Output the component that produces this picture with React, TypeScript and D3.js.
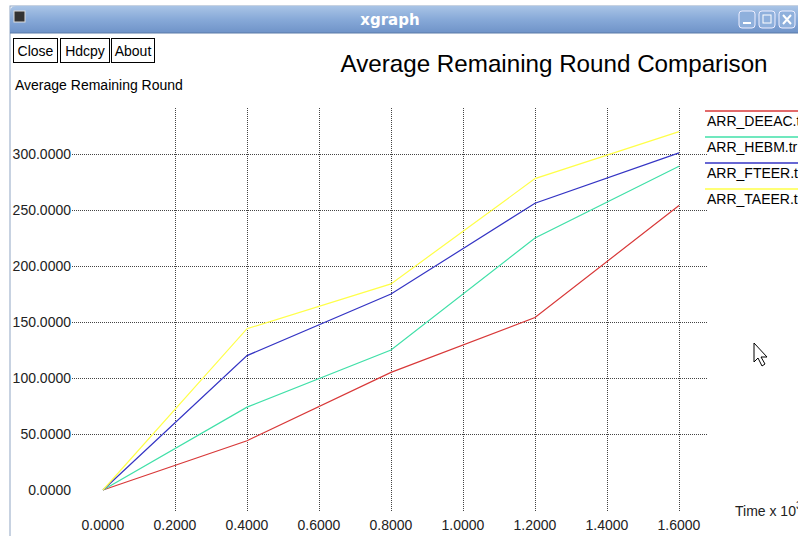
import React from 'react';
import * as d3 from 'd3';

// values
const times = [0, 0.4, 0.8, 1.2, 1.6];
const deeac = [0, 44, 105, 154, 254];
const hebm = [0, 74, 125, 225, 289];
const fteer = [0, 120, 175, 256, 301];
const taeer = [0, 144, 184, 278, 320];

const seriesNames = ['ARR_DEEAC.tr', 'ARR_HEBM.tr', 'ARR_FTEER.tr', 'ARR_TAEER.tr'];
const seriesColors = ['#d83838', '#40e0a8', '#3434c4', '#ffff48'];
const seriesValues = [deeac, hebm, fteer, taeer];

const xTicks = [0, 0.2, 0.4, 0.6, 0.8, 1.0, 1.2, 1.4, 1.6];
const yTicks = [0, 50, 100, 150, 200, 250, 300];

const W = 798;
const H = 536;
const font = 'Liberation Sans, Arial, sans-serif';

const App = () => {
  const x = d3.scaleLinear().domain([0, 1.6]).range([103, 679]);
  const y = d3.scaleLinear().domain([0, 300]).range([490, 154]);

  const line = d3
    .line<number>()
    .x((d, i) => x(times[i]))
    .y(d => y(d));

  const grid = '#444';

  return (
    <svg
      width={W}
      height={H}
      style={{ position: 'absolute', left: 0, top: 0, display: 'block', background: '#fff' }}
    >
      <defs>
        <linearGradient id="tb" x1="0" y1="0" x2="0" y2="1">
          <stop offset="0" stopColor="#a9c4e6" />
          <stop offset="0.5" stopColor="#87a9d8" />
          <stop offset="1" stopColor="#6f93c8" />
        </linearGradient>
      </defs>

      {/* window frame */}
      <rect x={10} y={6} width={W} height={H} fill="#fff" stroke="#8fa6c4" />
      <path d={`M10,33 L10,12 Q10,6 16,6 L${W},6 L${W},33 Z`} fill="url(#tb)" />
      <line x1={10} y1={33} x2={W} y2={33} stroke="#5a7aa8" />
      <rect x={14} y={11} width={11} height={11} fill="#333" stroke="#ddd" />
      <text x={390} y={25} textAnchor="middle" fontFamily="DejaVu Sans, sans-serif" fontWeight="bold" fontSize={15} fill="#fff">
        xgraph
      </text>
      {[739, 759, 779].map((bx, i) => (
        <g key={i}>
          <rect x={bx} y={11} width={16} height={17} rx={3} fill="#8fb0dc" stroke="#eef" />
          {i === 0 && <rect x={bx + 4} y={22} width={8} height={2} fill="#fff" />}
          {i === 1 && <rect x={bx + 4} y={15} width={8} height={8} fill="none" stroke="#fff" />}
          {i === 2 && (
            <path d={`M${bx + 4},${15} L${bx + 12},${24} M${bx + 12},15 L${bx + 4},24`} stroke="#fff" strokeWidth={2} />
          )}
        </g>
      ))}

      {/* buttons */}
      {[
        { label: 'Close', x0: 13, w: 44 },
        { label: 'Hdcpy', x0: 60, w: 49 },
        { label: 'About', x0: 111, w: 43 },
      ].map(b => (
        <g key={b.label}>
          <rect x={b.x0 + 0.5} y={38.5} width={b.w} height={24} fill="#fff" stroke="#000" />
          <text x={b.x0 + b.w / 2 + 0.5} y={56} textAnchor="middle" fontFamily={font} fontSize={14} fill="#000">
            {b.label}
          </text>
        </g>
      ))}

      <text x={554} y={72} textAnchor="middle" fontFamily={font} fontSize={24.2} fill="#000">
        Average Remaining Round Comparison
      </text>
      <text x={15} y={90} fontFamily={font} fontSize={14} fill="#000">
        Average Remaining Round
      </text>

      {/* grid */}
      {yTicks.filter(v => v !== 0).map(v => (
        <line key={v} x1={72} x2={708} y1={y(v) + 0.5} y2={y(v) + 0.5} stroke={grid} strokeDasharray="1,1" />
      ))}
      {xTicks.filter(v => v !== 0).map(v => (
        <line key={v} x1={x(v) + 0.5} x2={x(v) + 0.5} y1={108} y2={511} stroke={grid} strokeDasharray="1,1" />
      ))}

      {yTicks.map(v => (
        <text key={v} x={71} y={y(v) + 5} textAnchor="end" fontFamily={font} fontSize={14} fill="#222">
          {d3.format('.4f')(v)}
        </text>
      ))}
      {xTicks.map(v => (
        <text key={v} x={x(v)} y={530} textAnchor="middle" fontFamily={font} fontSize={14} fill="#222">
          {d3.format('.4f')(v)}
        </text>
      ))}

      <text x={735} y={516} fontFamily={font} fontSize={14} fill="#222">
        Time x 10
        <tspan dy={-7} fontSize={11}>3</tspan>
      </text>

      {/* series */}
      {seriesValues.map((vals, i) => (
        <path key={seriesNames[i]} d={line(vals) ?? ''} fill="none" stroke={seriesColors[i]} strokeWidth={1.2} />
      ))}

      {/* legend */}
      {seriesNames.map((name, i) => {
        const ly = 111 + i * 26;
        return (
          <g key={name}>
            <line x1={705} x2={W} y1={ly} y2={ly} stroke={seriesColors[i]} strokeWidth={1.5} />
            <text x={707} y={ly + 15} fontFamily={font} fontSize={14} fill="#000">
              {name}
            </text>
          </g>
        );
      })}

      {/* mouse cursor */}
      <path
        d="M754,343 L754,362 L758,358 L762,366 L765,364 L761,357 L767,357 Z"
        fill="#fff"
        stroke="#000"
        strokeWidth={1}
      />
    </svg>
  );
};

export default App;
